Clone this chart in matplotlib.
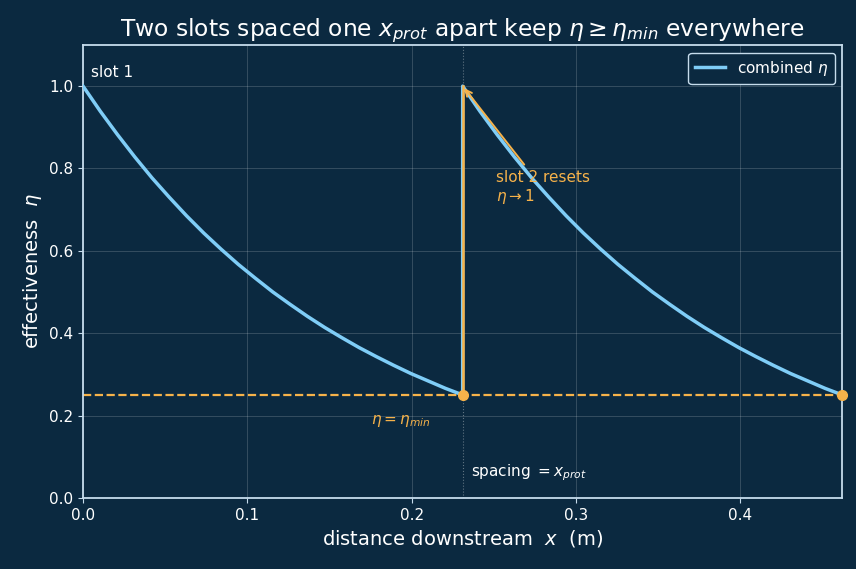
import matplotlib

matplotlib.use("Agg")
import matplotlib.pyplot as plt

BG = "#0b2940"
FG = "#ffffff"
SPINE = "#c6dcec"
BLUE = "#7fcdf7"
ORANGE = "#f6b24a"

# slot spacing and minimum effectiveness
x_prot = 0.231
eta_min = 0.25

dist = [0.0, 0.0105, 0.021, 0.0315, 0.042, 0.0525, 0.063, 0.0735, 0.084, 0.0945, 0.105, 0.1155,
        0.126, 0.1365, 0.147, 0.1575, 0.168, 0.1785, 0.189, 0.1995, 0.210, 0.2205, 0.231]
eta_slot = [1.000, 0.939, 0.882, 0.828, 0.777, 0.730, 0.685, 0.643, 0.604, 0.567, 0.533, 0.500,
            0.470, 0.441, 0.414, 0.389, 0.365, 0.343, 0.322, 0.302, 0.284, 0.266, 0.250]

x_ticks = [0.0, 0.1, 0.2, 0.3, 0.4]
y_ticks = [0.0, 0.2, 0.4, 0.6, 0.8, 1.0]

x_combined = dist + [x_prot + d for d in dist]
eta_combined = eta_slot + eta_slot

fig = plt.figure(figsize=(8.56, 5.69), dpi=100, facecolor=BG)
ax = fig.add_subplot(111)
ax.set_facecolor(BG)
fig.subplots_adjust(left=0.097, right=0.984, bottom=0.125, top=0.921)

ax.plot(x_combined, eta_combined, color=BLUE, linewidth=2.5,
        label=r"combined $\eta$", zorder=3)
ax.axhline(eta_min, color=ORANGE, linestyle="--", linewidth=1.6, zorder=2)
ax.axvline(x_prot, color=FG, linestyle=":", linewidth=0.8, alpha=0.35, zorder=1)
ax.plot([x_prot, x_prot], [eta_min, eta_slot[0]], color=ORANGE, linewidth=1.8, zorder=4)
ax.plot([x_prot, x_combined[-1]], [eta_min, eta_combined[-1]], linestyle="", marker="o",
        markersize=7, color=ORANGE, zorder=5, clip_on=False)

ax.annotate("slot 2 resets\n" + r"$\eta \rightarrow 1$", xy=(x_prot, 1.0), xytext=(0.251, 0.708),
            color=ORANGE, fontsize=11, ha="left", va="bottom",
            arrowprops=dict(arrowstyle="->", color=ORANGE, lw=1.4))
ax.text(0.005, 1.015, "slot 1", color=FG, fontsize=11, ha="left", va="bottom")
ax.text(0.175, 0.168, r"$\eta = \eta_{min}$", color=ORANGE, fontsize=11, ha="left", va="bottom")
ax.text(0.236, 0.037, r"spacing $= x_{prot}$", color=FG, fontsize=11, ha="left", va="bottom")

ax.set_xlim(0, 2 * x_prot)
ax.set_ylim(0, 1.1)
ax.set_xticks(x_ticks)
ax.set_yticks(y_ticks)
ax.grid(True, color=FG, alpha=0.17, linewidth=0.7)
ax.tick_params(colors=SPINE, labelcolor=FG, labelsize=11)
for sp in ax.spines.values():
    sp.set_color(SPINE)
    sp.set_linewidth(1.3)

ax.set_xlabel(r"distance downstream  $x$  (m)", color=FG, fontsize=14)
ax.set_ylabel(r"effectiveness  $\eta$", color=FG, fontsize=14)
ax.set_title(r"Two slots spaced one $x_{prot}$ apart keep $\eta \geq \eta_{min}$ everywhere",
             color=FG, fontsize=16.8)

leg = ax.legend(loc="upper right", fontsize=11, facecolor=BG, edgecolor=SPINE, framealpha=1.0)
for t in leg.get_texts():
    t.set_color(FG)

fig.savefig("out.png", dpi=100, facecolor=BG)
